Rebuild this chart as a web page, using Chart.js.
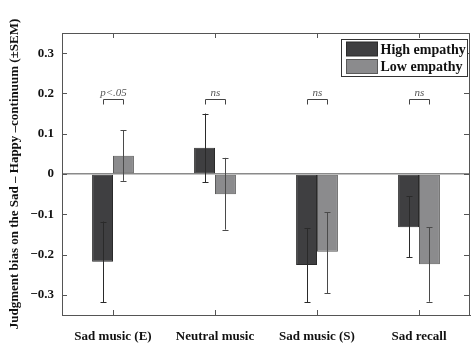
<!DOCTYPE html>
<html lang="en">
<head>
    <meta charset="UTF-8">
    <title>Judgment bias by empathy group</title>
    <script src="https://cdn.jsdelivr.net/npm/chart.js"></script>
    <style>
        body {
            margin: 0;
            background: white;
        }
        canvas {
            display: block;
        }
    </style>
</head>
<body>
    <canvas id="biasChart" width="471" height="345"></canvas>

    <script>
        // data
        const categories = ['Sad music (E)', 'Neutral music', 'Sad music (S)', 'Sad recall'];
        const highEmpathy = [-0.218, 0.065, -0.226, -0.132];
        const lowEmpathy = [0.045, -0.050, -0.193, -0.224];
        // error bar ends (mean ± SEM)
        const highErrLow = [-0.318, -0.020, -0.318, -0.207];
        const highErrHigh = [-0.118, 0.150, -0.134, -0.055];
        const lowErrLow = [-0.017, -0.138, -0.296, -0.317];
        const lowErrHigh = [0.108, 0.040, -0.095, -0.132];
        const sigLabels = ['p<.05', 'ns', 'ns', 'ns'];
        const bracketLevel = 0.185;
        const yTicks = [-0.3, -0.2, -0.1, 0, 0.1, 0.2, 0.3];

        const serif = "'Liberation Serif', 'Times New Roman', serif";
        const axisColor = '#555';

        const extrasPlugin = {
            id: 'extras',
            afterDatasetsDraw(chart) {
                const ctx = chart.ctx;
                const y = chart.scales.y;
                const groups = [
                    { meta: chart.getDatasetMeta(0), lo: highErrLow, hi: highErrHigh, color: '#2a2a2a' },
                    { meta: chart.getDatasetMeta(1), lo: lowErrLow, hi: lowErrHigh, color: '#4a4a4a' }
                ];
                ctx.save();
                ctx.lineWidth = 1;
                // error bars
                groups.forEach(g => {
                    ctx.strokeStyle = g.color;
                    g.meta.data.forEach((bar, i) => {
                        const x = Math.round(bar.x) + 0.5;
                        const yl = y.getPixelForValue(g.lo[i]);
                        const yh = y.getPixelForValue(g.hi[i]);
                        ctx.beginPath();
                        ctx.moveTo(x, yl);
                        ctx.lineTo(x, yh);
                        ctx.moveTo(x - 3, Math.round(yl) + 0.5);
                        ctx.lineTo(x + 3, Math.round(yl) + 0.5);
                        ctx.moveTo(x - 3, Math.round(yh) + 0.5);
                        ctx.lineTo(x + 3, Math.round(yh) + 0.5);
                        ctx.stroke();
                    });
                });
                // significance brackets
                ctx.strokeStyle = '#444';
                ctx.fillStyle = '#555';
                ctx.font = 'italic 11px ' + serif;
                ctx.textAlign = 'center';
                ctx.textBaseline = 'alphabetic';
                const by = Math.round(y.getPixelForValue(bracketLevel)) + 0.5;
                sigLabels.forEach((lbl, i) => {
                    const x1 = Math.round(groups[0].meta.data[i].x) + 0.5;
                    const x2 = Math.round(groups[1].meta.data[i].x) + 0.5;
                    ctx.beginPath();
                    ctx.moveTo(x1, by + 5);
                    ctx.lineTo(x1, by);
                    ctx.lineTo(x2, by);
                    ctx.lineTo(x2, by + 5);
                    ctx.stroke();
                    ctx.fillText(lbl, (x1 + x2) / 2, by - 4);
                });
                ctx.restore();
            },
            afterDraw(chart) {
                const ctx = chart.ctx;
                const a = chart.chartArea;
                const x = chart.scales.x;
                const y = chart.scales.y;
                ctx.save();
                ctx.strokeStyle = axisColor;
                ctx.lineWidth = 1;
                // box around plot
                ctx.strokeRect(Math.round(a.left) + 0.5, Math.round(a.top) + 0.5,
                    Math.round(a.right - a.left) - 1, Math.round(a.bottom - a.top));
                // inward ticks
                ctx.beginPath();
                y.ticks.forEach(t => {
                    const py = Math.round(y.getPixelForValue(t.value)) + 0.5;
                    ctx.moveTo(a.left, py); ctx.lineTo(a.left + 5, py);
                    ctx.moveTo(a.right - 1, py); ctx.lineTo(a.right - 6, py);
                });
                categories.forEach((c, i) => {
                    const px = Math.round(x.getPixelForValue(i)) + 0.5;
                    ctx.moveTo(px, a.bottom); ctx.lineTo(px, a.bottom - 5);
                    ctx.moveTo(px, a.top); ctx.lineTo(px, a.top + 5);
                });
                ctx.stroke();

                // legend box in the top right corner
                const lx = Math.round(a.right) - 128.5;
                const ly = Math.round(a.top) + 6.5;
                ctx.fillStyle = 'white';
                ctx.fillRect(lx, ly, 126, 37);
                ctx.strokeStyle = '#333';
                ctx.strokeRect(lx, ly, 126, 37);
                ctx.font = 'bold 14px ' + serif;
                ctx.textAlign = 'left';
                ctx.textBaseline = 'middle';
                chart.data.datasets.forEach((ds, i) => {
                    const cy = ly + 9.5 + i * 17.5;
                    ctx.fillStyle = ds.backgroundColor;
                    ctx.fillRect(lx + 5, cy - 7, 31, 14);
                    ctx.strokeStyle = ds.borderColor;
                    ctx.strokeRect(lx + 5, cy - 7, 31, 14);
                    ctx.fillStyle = '#111';
                    ctx.fillText(ds.label, lx + 39, cy + 1);
                });
                ctx.restore();
            }
        };

        new Chart(document.getElementById('biasChart'), {
            type: 'bar',
            data: {
                labels: categories,
                datasets: [
                    {
                        label: 'High empathy',
                        data: highEmpathy,
                        backgroundColor: '#3f3f41',
                        borderColor: '#2a2a2a',
                        borderWidth: 1,
                        borderSkipped: false,
                        categoryPercentage: 0.41,
                        barPercentage: 1.0
                    },
                    {
                        label: 'Low empathy',
                        data: lowEmpathy,
                        backgroundColor: '#8b8b8d',
                        borderColor: '#5a5a5a',
                        borderWidth: 1,
                        borderSkipped: false,
                        categoryPercentage: 0.41,
                        barPercentage: 1.0
                    }
                ]
            },
            options: {
                responsive: false,
                animation: false,
                layout: {
                    padding: { top: 33, right: 1, left: 0, bottom: 0 }
                },
                plugins: {
                    legend: { display: false },
                    tooltip: { enabled: false }
                },
                scales: {
                    x: {
                        grid: { display: false },
                        border: { display: true, color: axisColor },
                        ticks: {
                            color: '#111',
                            padding: 6,
                            maxRotation: 0,
                            autoSkip: false,
                            font: { family: serif, size: 13, weight: 'bold' }
                        },
                        afterFit: scale => { scale.height = 30; }
                    },
                    y: {
                        min: -0.35,
                        max: 0.35,
                        afterBuildTicks: scale => {
                            scale.ticks = yTicks.map(v => ({ value: v }));
                        },
                        grid: {
                            drawTicks: false,
                            color: c => (c.tick && c.tick.value === 0) ? '#8a8a8a' : 'rgba(0,0,0,0)',
                            lineWidth: 1.5
                        },
                        border: { display: true, color: axisColor },
                        ticks: {
                            color: '#111',
                            padding: 8,
                            font: { family: serif, size: 13, weight: 'bold' },
                            callback: v => v === 0 ? '0' : (v < 0 ? '\u2212' : '') + Math.abs(v).toFixed(1)
                        },
                        title: {
                            display: true,
                            text: 'Judgment bias on the Sad \u2013 Happy \u2013continuum (\u00b1SEM)',
                            color: '#111',
                            padding: { top: 7, bottom: 0 },
                            font: { family: serif, size: 13, weight: 'bold' }
                        },
                        afterFit: scale => { scale.width = 62; }
                    }
                }
            },
            plugins: [extrasPlugin]
        });
    </script>
</body>
</html>
